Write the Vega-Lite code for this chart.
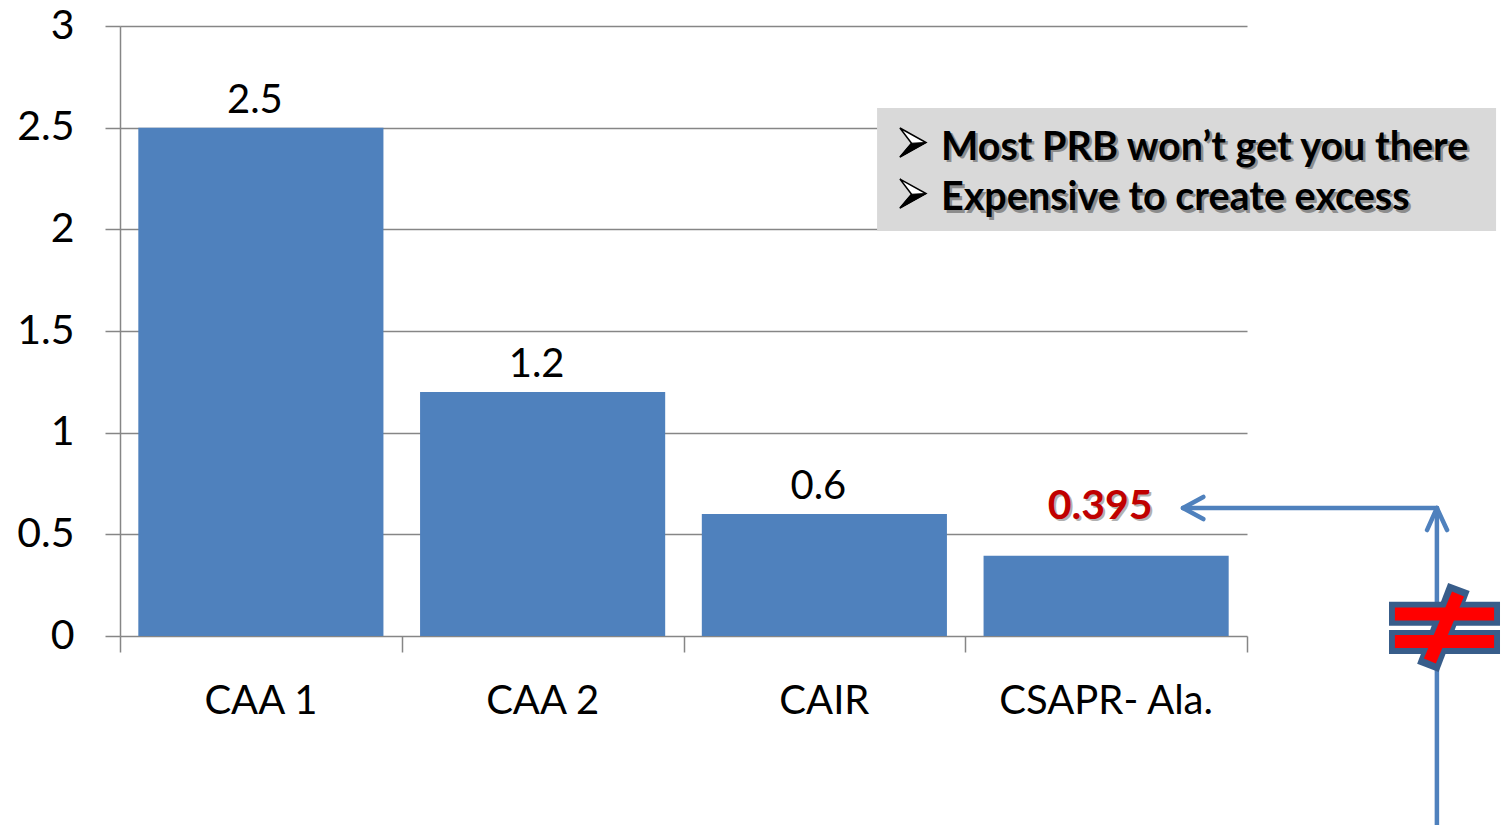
{
  "$schema": "https://vega.github.io/schema/vega-lite/v6.json",
  "width": 1127,
  "height": 610,
  "autosize": {"type": "none"},
  "padding": {"left": 120, "top": 26, "right": 258, "bottom": 189},
  "background": "white",
  "config": {"view": {"stroke": null}, "font": "Lato"},
  "datasets": {
    "bars": [
      {"cat": "CAA 1", "value": 2.5},
      {"cat": "CAA 2", "value": 1.2},
      {"cat": "CAIR", "value": 0.6},
      {"cat": "CSAPR- Ala.", "value": 0.395}
    ],
    "note": [{"line1": "Most PRB won’t get you there", "line2": "Expensive to create excess"}]
  },
  "layer": [
    {
      "data": {"name": "bars"},
      "encoding": {
        "x": {
          "field": "cat", "type": "nominal", "sort": null,
          "scale": {"paddingInner": 0, "paddingOuter": 0},
          "axis": {"title": null, "labelAngle": 0, "ticks": false, "domain": false, "grid": false, "labelLimit": 500,
                   "labelFontSize": 40, "labelFont": "Lato", "labelColor": "black", "labelPadding": 45}
        },
        "y": {
          "field": "value", "type": "quantitative",
          "scale": {"domain": [0, 3], "nice": false},
          "axis": {"title": null, "values": [0, 0.5, 1, 1.5, 2, 2.5, 3], "format": "~g",
                   "labelFontSize": 41, "labelFont": "Lato", "labelColor": "black", "labelPadding": 31,
                   "tickSize": 15, "tickColor": "#868686", "tickWidth": 1.5,
                   "domainColor": "#868686", "domainWidth": 1.5,
                   "grid": true, "gridColor": "#868686", "gridWidth": 1.5}
        }
      },
      "layer": [
        {"mark": {"type": "bar", "width": {"band": 0.87}, "color": "#4f81bd"}},
        {
          "transform": [{"filter": "datum.cat !== 'CSAPR- Ala.'"}],
          "mark": {"type": "text", "baseline": "alphabetic", "dy": -15, "dx": -6, "fontSize": 40, "font": "Lato", "color": "black"},
          "encoding": {"text": {"field": "value", "type": "quantitative", "format": "~g"}}
        },
        {
          "transform": [{"filter": "datum.cat === 'CSAPR- Ala.'"}],
          "mark": {"type": "text", "baseline": "alphabetic", "dx": -4, "dy": 2, "fontSize": 41, "font": "Lato", "fontWeight": "bold", "color": "#555555", "opacity": 0.45},
          "encoding": {
            "text": {"field": "value", "type": "quantitative", "format": "~g"},
            "yOffset": {"value": -37}
          }
        },
        {
          "transform": [{"filter": "datum.cat === 'CSAPR- Ala.'"}],
          "mark": {"type": "text", "baseline": "alphabetic", "dx": -6, "fontSize": 41, "font": "Lato", "fontWeight": "bold", "color": "#c00000"},
          "encoding": {
            "text": {"field": "value", "type": "quantitative", "format": "~g"},
            "yOffset": {"value": -37}
          }
        }
      ]
    },
    {
      "data": {"name": "note"},
      "layer": [
        {
          "mark": {"type": "rect", "color": "#d9d9d9"},
          "encoding": {
            "x": {"datum": 2.687, "type": "quantitative", "scale": {"domain": [0, 4], "nice": false, "zero": false},
                  "axis": {"orient": "bottom", "title": null, "values": [0, 1, 2, 3, 4], "labels": false, "domain": false, "grid": false,
                           "tickSize": 16, "tickColor": "#868686", "tickWidth": 1.5}},
            "x2": {"datum": 4.884},
            "y": {"datum": 2.597, "type": "quantitative", "title": null},
            "y2": {"datum": 1.992}
          }
        },
        {
          "mark": {"type": "point", "shape": "M-0.9,-1L0.9,0L-0.9,1L-0.1,0.05Z", "size": 841, "filled": true, "fill": "#ffffff", "stroke": "black", "strokeWidth": 1.5, "opacity": 1},
          "encoding": {"x": {"datum": 2.8145, "type": "quantitative", "title": null}, "y": {"datum": 2.427, "type": "quantitative", "title": null}}
        },
        {
          "mark": {"type": "point", "shape": "M-0.1,0.05L0.9,0L-0.9,1Z", "size": 841, "filled": true, "fill": "black", "stroke": "black", "strokeWidth": 1, "opacity": 1},
          "encoding": {"x": {"datum": 2.8145, "type": "quantitative", "title": null}, "y": {"datum": 2.427, "type": "quantitative", "title": null}}
        },
        {
          "mark": {"type": "point", "shape": "M-0.9,-1L0.9,0L-0.9,1L-0.1,0.05Z", "size": 841, "filled": true, "fill": "#ffffff", "stroke": "black", "strokeWidth": 1.5, "opacity": 1},
          "encoding": {"x": {"datum": 2.8145, "type": "quantitative", "title": null}, "y": {"datum": 2.176, "type": "quantitative", "title": null}}
        },
        {
          "mark": {"type": "point", "shape": "M-0.1,0.05L0.9,0L-0.9,1Z", "size": 841, "filled": true, "fill": "black", "stroke": "black", "strokeWidth": 1, "opacity": 1},
          "encoding": {"x": {"datum": 2.8145, "type": "quantitative", "title": null}, "y": {"datum": 2.176, "type": "quantitative", "title": null}}
        },
        {
          "mark": {"type": "text", "align": "left", "baseline": "alphabetic", "font": "Lato", "fontWeight": "bold", "fontSize": 39.5, "color": "#444444", "opacity": 0.5, "dx": 2.5, "dy": 2.5},
          "encoding": {"x": {"datum": 2.914, "type": "quantitative", "title": null}, "y": {"datum": 2.341, "type": "quantitative", "title": null}, "text": {"field": "line1"}}
        },
        {
          "mark": {"type": "text", "align": "left", "baseline": "alphabetic", "font": "Lato", "fontWeight": "bold", "fontSize": 39.5, "color": "#444444", "opacity": 0.5, "dx": 2.5, "dy": 2.5},
          "encoding": {"x": {"datum": 2.914, "type": "quantitative", "title": null}, "y": {"datum": 2.095, "type": "quantitative", "title": null}, "text": {"field": "line2"}}
        },
        {
          "mark": {"type": "text", "align": "left", "baseline": "alphabetic", "font": "Lato", "fontWeight": "bold", "fontSize": 39.5, "color": "black"},
          "encoding": {"x": {"datum": 2.914, "type": "quantitative", "title": null}, "y": {"datum": 2.341, "type": "quantitative", "title": null}, "text": {"field": "line1"}}
        },
        {
          "mark": {"type": "text", "align": "left", "baseline": "alphabetic", "font": "Lato", "fontWeight": "bold", "fontSize": 39.5, "color": "black"},
          "encoding": {"x": {"datum": 2.914, "type": "quantitative", "title": null}, "y": {"datum": 2.095, "type": "quantitative", "title": null}, "text": {"field": "line2"}}
        },
        {
          "mark": {"type": "rule", "color": "#4f81bd", "strokeWidth": 4.5, "strokeCap": "round"},
          "encoding": {"x": {"datum": 4.674, "type": "quantitative", "title": null}, "x2": {"datum": 4.674}, "y": {"datum": -1.2, "type": "quantitative", "title": null}, "y2": {"datum": 0.6295}}
        },
        {
          "mark": {"type": "rule", "color": "#4f81bd", "strokeWidth": 4.5, "strokeCap": "round"},
          "encoding": {"x": {"datum": 4.674, "type": "quantitative", "title": null}, "x2": {"datum": 3.773}, "y": {"datum": 0.6295, "type": "quantitative", "title": null}, "y2": {"datum": 0.6295}}
        },
        {
          "mark": {"type": "rule", "color": "#4f81bd", "strokeWidth": 4.5, "strokeCap": "round"},
          "encoding": {"x": {"datum": 3.773, "type": "quantitative", "title": null}, "x2": {"datum": 3.845}, "y": {"datum": 0.6295, "type": "quantitative", "title": null}, "y2": {"datum": 0.684}}
        },
        {
          "mark": {"type": "rule", "color": "#4f81bd", "strokeWidth": 4.5, "strokeCap": "round"},
          "encoding": {"x": {"datum": 3.773, "type": "quantitative", "title": null}, "x2": {"datum": 3.845}, "y": {"datum": 0.6295, "type": "quantitative", "title": null}, "y2": {"datum": 0.575}}
        },
        {
          "mark": {"type": "rule", "color": "#4f81bd", "strokeWidth": 4.5, "strokeCap": "round"},
          "encoding": {"x": {"datum": 4.674, "type": "quantitative", "title": null}, "x2": {"datum": 4.639}, "y": {"datum": 0.6295, "type": "quantitative", "title": null}, "y2": {"datum": 0.521}}
        },
        {
          "mark": {"type": "rule", "color": "#4f81bd", "strokeWidth": 4.5, "strokeCap": "round"},
          "encoding": {"x": {"datum": 4.674, "type": "quantitative", "title": null}, "x2": {"datum": 4.710}, "y": {"datum": 0.6295, "type": "quantitative", "title": null}, "y2": {"datum": 0.521}}
        },
        {
          "mark": {"type": "rule", "color": "#385d8a", "strokeWidth": 24, "strokeCap": "butt"},
          "encoding": {"x": {"datum": 4.504, "type": "quantitative", "title": null}, "x2": {"datum": 4.898}, "y": {"datum": 0.1097, "type": "quantitative", "title": null}, "y2": {"datum": 0.1097}}
        },
        {
          "mark": {"type": "rule", "color": "#385d8a", "strokeWidth": 24, "strokeCap": "butt"},
          "encoding": {"x": {"datum": 4.504, "type": "quantitative", "title": null}, "x2": {"datum": 4.898}, "y": {"datum": -0.0295, "type": "quantitative", "title": null}, "y2": {"datum": -0.0295}}
        },
        {
          "mark": {"type": "rule", "color": "#385d8a", "strokeWidth": 23, "strokeCap": "butt"},
          "encoding": {"x": {"datum": 4.752, "type": "quantitative", "title": null}, "x2": {"datum": 4.642}, "y": {"datum": 0.241, "type": "quantitative", "title": null}, "y2": {"datum": -0.157}}
        },
        {
          "mark": {"type": "rule", "color": "#ff0000", "strokeWidth": 13, "strokeCap": "butt"},
          "encoding": {"x": {"datum": 4.525, "type": "quantitative", "title": null}, "x2": {"datum": 4.877}, "y": {"datum": 0.108, "type": "quantitative", "title": null}, "y2": {"datum": 0.108}}
        },
        {
          "mark": {"type": "rule", "color": "#ff0000", "strokeWidth": 13, "strokeCap": "butt"},
          "encoding": {"x": {"datum": 4.525, "type": "quantitative", "title": null}, "x2": {"datum": 4.877}, "y": {"datum": -0.027, "type": "quantitative", "title": null}, "y2": {"datum": -0.027}}
        },
        {
          "mark": {"type": "rule", "color": "#ff0000", "strokeWidth": 13, "strokeCap": "butt"},
          "encoding": {"x": {"datum": 4.749, "type": "quantitative", "title": null}, "x2": {"datum": 4.649}, "y": {"datum": 0.2066, "type": "quantitative", "title": null}, "y2": {"datum": -0.123}}
        }
      ]
    }
  ],
  "resolve": {"scale": {"x": "independent"}}
}
